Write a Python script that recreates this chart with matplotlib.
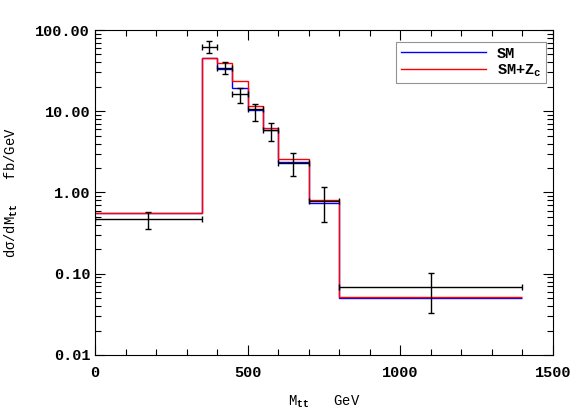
import matplotlib
matplotlib.use('Agg')
import matplotlib.pyplot as plt
from matplotlib.ticker import MultipleLocator, FixedLocator, LogLocator, NullFormatter
import numpy as np

plt.rcParams['font.family'] = ['Liberation Mono', 'DejaVu Sans Mono']
plt.rcParams['font.weight'] = 'bold'
plt.rcParams['mathtext.fontset'] = 'custom'
plt.rcParams['mathtext.rm'] = 'Liberation Mono:bold'
plt.rcParams['mathtext.default'] = 'rm'

# bin edges (GeV)
edges = [0, 350, 400, 450, 500, 550, 600, 700, 800, 1400]

# theory predictions (fb/GeV)
sm = [0.56, 45.0, 33.0, 19.1, 10.4, 5.87, 2.37, 0.75, 0.0499]
sm_zc = [0.564, 45.6, 38.9, 23.8, 11.7, 6.28, 2.56, 0.81, 0.0523]

# data points
data_x = [175, 375, 425, 475, 525, 575, 650, 750, 1100]
data_xerr = [175, 25, 25, 25, 25, 25, 50, 50, 300]
data_y = [0.47, 62.4, 34.4, 16.3, 10.7, 5.9, 2.33, 0.785, 0.068]
data_lo = [0.36, 51.7, 28.5, 12.7, 7.66, 4.3, 1.6, 0.433, 0.0326]
data_hi = [0.58, 73.8, 40.0, 19.5, 12.3, 7.1, 3.03, 1.18, 0.103]

fig = plt.figure(figsize=(5.81, 4.15), dpi=100)
ax = fig.add_axes([0.1635, 0.1446, 0.7883, 0.7831])

ax.stairs(sm, edges, baseline=None, color='#0000ff', lw=1.0, label='SM')
ax.stairs(sm_zc, edges, baseline=None, color='#ff0000', lw=1.0, label='SM+Z$_{c}$')

yerr = [np.array(data_y) - np.array(data_lo), np.array(data_hi) - np.array(data_y)]
ax.errorbar(data_x, data_y, xerr=data_xerr, yerr=yerr, fmt='none',
            ecolor='black', elinewidth=1.0, capsize=2.2, capthick=1.0)

ax.set_yscale('log')
ax.set_xlim(0, 1500)
ax.set_ylim(0.01, 100)

ax.xaxis.set_major_locator(MultipleLocator(500))
ax.xaxis.set_minor_locator(MultipleLocator(100))
ax.yaxis.set_major_locator(FixedLocator([0.01, 0.1, 1, 10, 100]))
ax.yaxis.set_minor_locator(LogLocator(base=10, subs=np.arange(2, 10), numticks=20))
ax.yaxis.set_minor_formatter(NullFormatter())
ax.set_yticklabels(['0.01', '0.10', '1.00', '10.00', '100.00'])

ax.tick_params(which='both', direction='in', top=True, right=True, labelsize=11)
ax.tick_params(which='major', length=7, width=0.8)
ax.tick_params(which='minor', length=4, width=0.8)
ax.tick_params(axis='x', pad=8)

ax.set_xlabel('M$_{tt}$   GeV', fontsize=10, labelpad=10)
ax.set_ylabel('d\u03c3/dM$_{tt}$   fb/GeV', fontsize=10, labelpad=11)

leg = ax.legend(loc='upper right', fontsize=11, frameon=True, fancybox=False,
                edgecolor='#777777', handlelength=5.6, handletextpad=0.7,
                borderpad=0.3, labelspacing=0.1, borderaxespad=0,
                bbox_to_anchor=(0.985, 0.963))
leg.get_frame().set_linewidth(0.8)

for s in ax.spines.values():
    s.set_linewidth(0.8)

fig.savefig('out.png', dpi=100)
